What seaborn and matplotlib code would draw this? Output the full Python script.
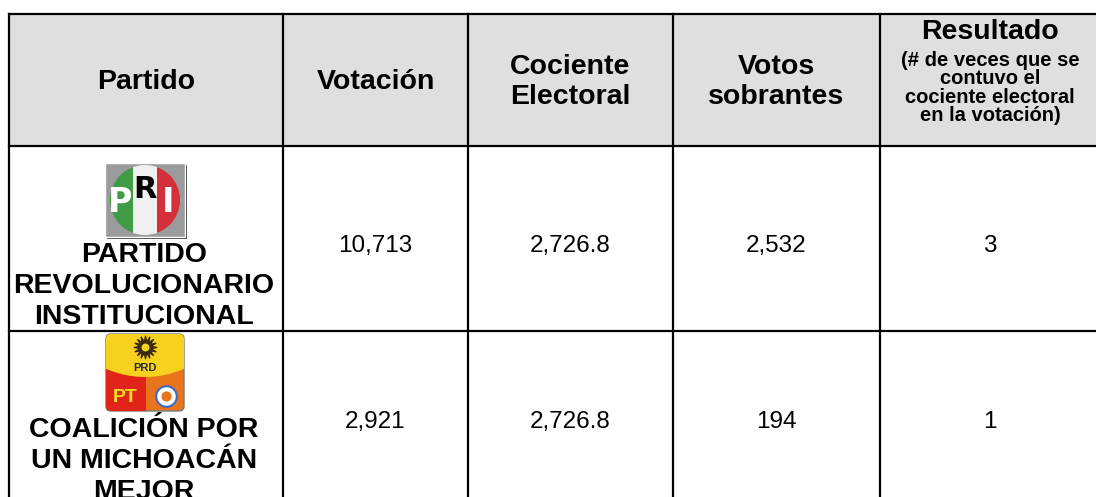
import numpy as np
import matplotlib
matplotlib.use("Agg")
import matplotlib.pyplot as plt
import seaborn as sns
from matplotlib.patches import Rectangle, Circle, FancyBboxPatch, Polygon

# ---------------- data ----------------
headers = ["Partido", "Votación", "Cociente\nElectoral", "Votos\nsobrantes", "Resultado"]
resultado_sub = "(# de veces que se\ncontuvo el\ncociente electoral\nen la votación)"
partidos = ["PARTIDO\nREVOLUCIONARIO\nINSTITUCIONAL", "COALICIÓN POR\nUN MICHOACÁN\nMEJOR"]
votacion = [10713, 2921]
cociente = [2726.8, 2726.8]
sobrantes = [2532, 194]
resultado = [3, 1]

sns.set_theme(style="white")
plt.rcParams['font.family'] = ['Liberation Sans', 'DejaVu Sans']
plt.rcParams['text.color'] = 'black'

fig = plt.figure(figsize=(10.96, 4.97), dpi=100)
ax = fig.add_axes([0, 0, 1, 1])
ax.set_xlim(0, 1096)
ax.set_ylim(497, 0)
ax.axis('off')

# grid geometry (pixels)
xe = [9, 283, 468, 673, 880, 1110]
ye = [14, 146, 331, 520]
xc = [(xe[i] + xe[i + 1]) / 2 for i in range(4)] + [990]
lw = 1.6

ax.add_patch(Rectangle((xe[0], ye[0]), xe[-1] - xe[0], ye[1] - ye[0],
                       facecolor="#dfdfdf", edgecolor="none", zorder=0))
for y in ye[:3]:
    ax.plot([xe[0], xe[-1]], [y, y], color="black", lw=lw, solid_capstyle="projecting", zorder=3)
for x in xe[:5]:
    ax.plot([x, x], [ye[0], ye[-1]], color="black", lw=lw, solid_capstyle="projecting", zorder=3)

# headers
hy = 82
for i in range(4):
    ax.text(xc[i], hy, headers[i], ha="center", va="center", fontsize=20.5,
            fontweight="bold", linespacing=1.15, color="black")
ax.text(xc[4], 32, headers[4], ha="center", va="center", fontsize=20.5,
        fontweight="bold", color="black")
ax.text(xc[4], 88, resultado_sub, ha="center", va="center", fontsize=14.5,
        fontweight="bold", linespacing=0.96, color="black")

# body values
row_y = [246, 422]
for r in range(2):
    vals = [f"{votacion[r]:,}", f"{cociente[r]:,.1f}", f"{sobrantes[r]:,}", f"{resultado[r]}"]
    for c, v in enumerate(vals):
        ax.text(xc[c + 1], row_y[r], v, ha="center", va="center", fontsize=17.5,
                color="black")

# party names
name_y = [286, 461]
for r in range(2):
    ax.text(xc[0] - 2, name_y[r], partidos[r], ha="center", va="center", fontsize=20.5,
            fontweight="bold", linespacing=1.25, color="black")

# ---- PRI logo ----
ax.add_patch(Rectangle((106, 164), 81, 75, facecolor="black", zorder=4))
ax.add_patch(Rectangle((105, 163), 80, 74, facecolor="#9b9b9b", zorder=5))
circ = Circle((145, 200), 35, transform=ax.transData)
for x0, col in [(108, "#3f9c45"), (133, "#f0f0f0"), (157, "#d3303b")]:
    p = Rectangle((x0, 160), 25, 80, facecolor=col, edgecolor="none", zorder=6)
    ax.add_patch(p)
    p.set_clip_path(circ)
ax.text(120, 203, "P", color="white", fontsize=24, fontweight="bold", ha="center",
        va="center", zorder=7, family="DejaVu Sans")
ax.text(145, 189, "R", color="black", fontsize=22, fontweight="bold", ha="center",
        va="center", zorder=7, family="DejaVu Sans")
ax.text(168, 203, "I", color="white", fontsize=24, fontweight="bold", ha="center",
        va="center", zorder=7, family="DejaVu Sans")

# ---- Coalition logo ----
box = FancyBboxPatch((106, 334), 78, 77, boxstyle="round,pad=0,rounding_size=5",
                     facecolor="#e8741c", edgecolor="#7a7a7a", lw=1, zorder=5)
ax.add_patch(box)
red = Rectangle((105, 360), 41, 55, facecolor="#e2231a", edgecolor="none", zorder=6)
ax.add_patch(red)
red.set_clip_path(box)
xs = np.linspace(104, 186, 30)
ys = 368 + 9 * (1 - ((xs - 145) / 41) ** 2)
yel = Polygon(np.vstack([np.column_stack([xs, ys]), [[186, 330], [104, 330]]]),
              facecolor="#f6d21e", edgecolor="none", zorder=7)
ax.add_patch(yel)
yel.set_clip_path(box)
ax.scatter([145], [347], s=260, marker=(16, 1, 0), color="#3a2a10", zorder=8)
ax.scatter([145], [347], s=45, marker="o", color="#f6d21e", edgecolor="#3a2a10", zorder=9)
ax.text(145, 368, "PRD", fontsize=8, fontweight="bold", color="#2a2a2a",
        ha="center", va="center", zorder=9)
ax.text(125, 398, "PT", fontsize=14, fontweight="bold", color="#f6e21e",
        ha="center", va="center", zorder=9)
ax.scatter([166], [396], s=220, marker="o", color="white", edgecolor="#3d6bc4",
           linewidths=1.5, zorder=9)
ax.scatter([166], [396], s=40, marker="o", color="#e8741c", zorder=10)

fig.savefig("out.png", dpi=100)
